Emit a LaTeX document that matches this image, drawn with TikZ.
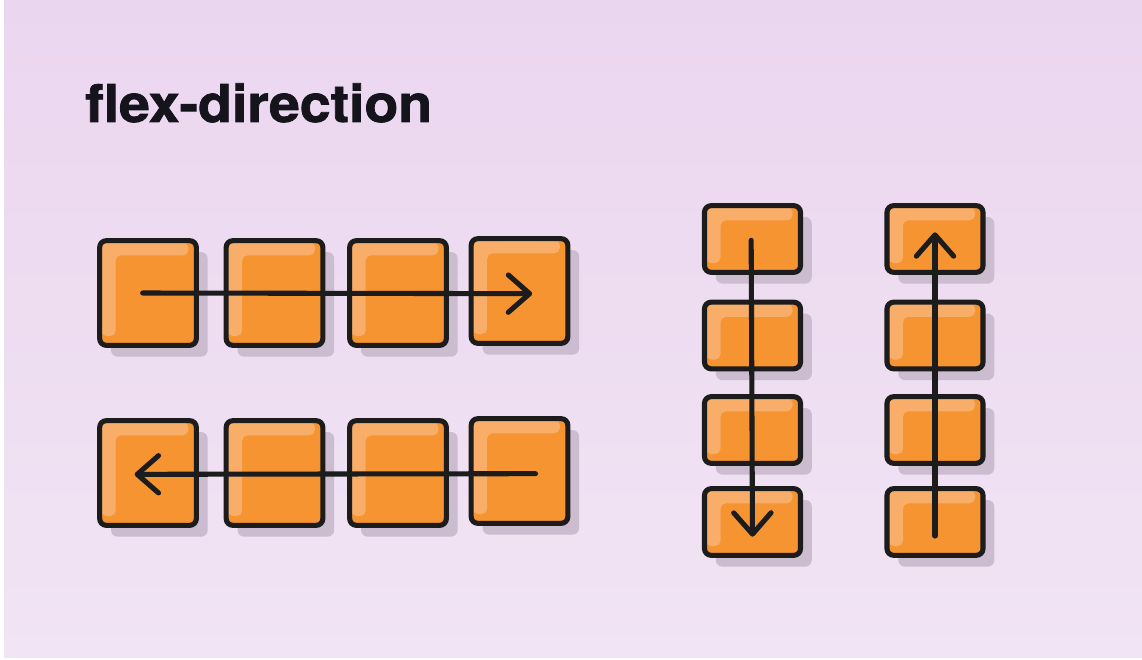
\documentclass[tikz,border=0pt]{standalone}
\usepackage{fontspec}
\setmainfont{TeX Gyre Heros}
\newfontfamily\titlefont[BoldFeatures={FakeBold=1.4}]{TeX Gyre Heros}
\usetikzlibrary{arrows.meta,shadows,calc}
\definecolor{bgtop}{HTML}{EBD6EF}
\definecolor{bgbot}{HTML}{F1E4F4}
\definecolor{boxfill}{HTML}{F59430}
\definecolor{hilite}{HTML}{F8AE68}
\definecolor{inkc}{HTML}{1C1C1C}
\definecolor{shadowc}{HTML}{CCBCD0}
\definecolor{titlec}{HTML}{15141C}
\begin{document}
\begin{tikzpicture}[
        x=0.75pt, y=-0.75pt,
        flexbox/.style={rectangle, draw=inkc, fill=boxfill, line width=3.8pt, rounded corners=5pt, inner sep=0pt,
            general shadow={fill=shadowc, draw=none, shadow xshift=8.5pt, shadow yshift=-8.5pt},
            path picture={\fill[hilite, rounded corners=4pt]
                ($(path picture bounding box.north west)+(1pt,-1pt)$) --
                ($(path picture bounding box.north east)+(-6pt,-1pt)$) -- ++(0,-10pt) --
                ($(path picture bounding box.north west)+(12pt,-11pt)$) --
                ($(path picture bounding box.south west)+(12pt,7pt)$) --
                ($(path picture bounding box.south west)+(1pt,7pt)$) -- cycle;}},
        rowbox/.style={flexbox, minimum width=72.5pt, minimum height=78.5pt},
        colbox/.style={flexbox, minimum width=72pt, minimum height=50pt},
        arrow/.style={-{Straight Barb[length=16pt, width=28pt, line width=3.8pt, round]}, draw=inkc, line width=3.8pt, line cap=round}
    ]
        % Background
        \fill[white] (0,0) rectangle (1142,660);
        \shade[top color=bgtop, bottom color=bgbot] (4,0) rectangle (1142,657);

        % Title
        \node[anchor=base west, inner sep=0pt, text=titlec, font=\titlefont\fontsize{39}{41}\selectfont\bfseries, xscale=1.065] (title) at (85,122) {flex-direction};

        % Row
        \node[rowbox] (fr1) at (148,293) {};
        \node[rowbox] (fr2) at (274.5,293) {};
        \node[rowbox] (fr3) at (398,293) {};
        \node[rowbox] (fr4) at (519.5,291) {};

        % Row reverse
        \node[rowbox] (rr1) at (148,473) {};
        \node[rowbox] (rr2) at (274.5,473) {};
        \node[rowbox] (rr3) at (398,473) {};
        \node[rowbox] (rr4) at (519.5,471) {};

        % Column
        \node[colbox] (fc1) at (752.5,239) {};
        \node[colbox] (fc2) at (752.5,335.5) {};
        \node[colbox] (fc3) at (752.5,430) {};
        \node[colbox] (fc4) at (752.5,522) {};

        % Column reverse
        \node[colbox] (cr1) at (935,239) {};
        \node[colbox] (cr2) at (935,335.5) {};
        \node[colbox] (cr3) at (935,430) {};
        \node[colbox] (cr4) at (935,522) {};

        % Arrow ends
        \coordinate (frstart) at ([xshift=-4pt]fr1.center);
        \coordinate (frend) at ([xshift=9.5pt,yshift=-2pt]fr4.center);
        \coordinate (rrstart) at ([xshift=12pt,yshift=-2pt]rr4.center);
        \coordinate (rrend) at ([xshift=-10pt,yshift=-1pt]rr1.center);
        \coordinate (fcstart) at ([xshift=-1pt,yshift=-1pt]fc1.center);
        \coordinate (fcend) at ([yshift=-11pt]fc4.center);
        \coordinate (crstart) at ([yshift=-10.5pt]cr4.center);
        \coordinate (crend) at ([yshift=5pt]cr1.center);

        \draw[arrow] (frstart) -- (frend);
        \draw[arrow] (rrstart) -- (rrend);
        \draw[arrow] (fcstart) -- (fcend);
        \draw[arrow] (crstart) -- (crend);
    \end{tikzpicture}
\end{document}
